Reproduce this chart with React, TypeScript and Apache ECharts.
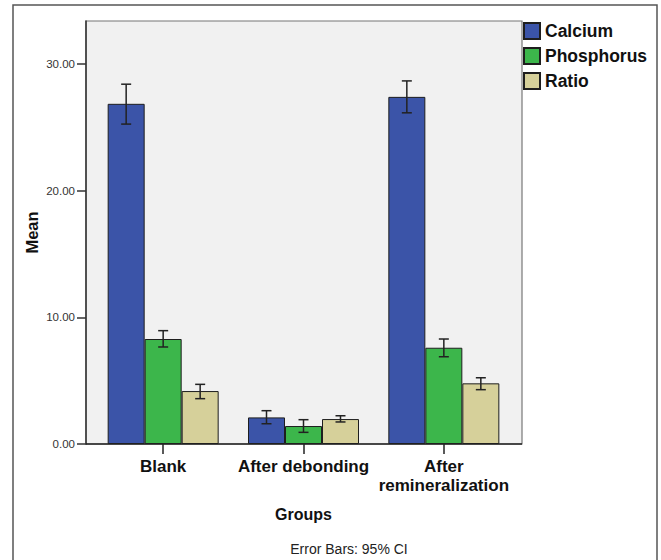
import React, { useEffect, useRef } from "react";
import * as echarts from "echarts";

// Group means with 95% confidence limits
const categories = ["Blank", "After debonding", "After\nremineralization"];
const seriesNames = ["Calcium", "Phosphorus", "Ratio"];

const calciumMean = [26.86, 2.1, 27.41];
const calciumLow = [25.26, 1.6, 26.15];
const calciumHigh = [28.41, 2.63, 28.67];

const phosphorusMean = [8.29, 1.42, 7.6];
const phosphorusLow = [7.66, 0.92, 6.89];
const phosphorusHigh = [8.95, 1.92, 8.29];

const ratioMean = [4.18, 1.97, 4.79];
const ratioLow = [3.58, 1.74, 4.29];
const ratioHigh = [4.71, 2.23, 5.23];

const yTicks = [0, 10, 20, 30];

const colors = ["#3b54a8", "#3cb64b", "#d6d09a"];
const FONT = "'Liberation Sans', Arial, sans-serif";
const BAR_W = 37;

const means = [calciumMean, phosphorusMean, ratioMean];
const lows = [calciumLow, phosphorusLow, ratioLow];
const highs = [calciumHigh, phosphorusHigh, ratioHigh];

export default function App() {
  const ref = useRef<HTMLDivElement>(null);

  useEffect(() => {
    if (!ref.current) return;
    const chart = echarts.init(ref.current, null, { renderer: "svg" });

    const barSeries = seriesNames.map((name, i) => ({
      name,
      type: "bar",
      data: means[i],
      barWidth: BAR_W,
      barGap: "0%",
      itemStyle: { color: colors[i], borderColor: "#1e1e1e", borderWidth: 1 },
      z: 2,
    }));

    const errorSeries = seriesNames.map((name, i) => ({
      name: name + " CI",
      type: "custom",
      z: 5,
      encode: { x: 0, y: [1, 2] },
      data: categories.map((_, c) => [c, lows[i][c], highs[i][c]]),
      renderItem: (params: any, api: any) => {
        const c = api.value(0);
        const top = api.coord([c, api.value(2)]);
        const bot = api.coord([c, api.value(1)]);
        const x = top[0] + (i - 1) * BAR_W;
        const cap = 5;
        const style = { stroke: "#222", lineWidth: 1.5 };
        return {
          type: "group",
          children: [
            { type: "line", shape: { x1: x, y1: top[1], x2: x, y2: bot[1] }, style },
            { type: "line", shape: { x1: x - cap, y1: top[1], x2: x + cap, y2: top[1] }, style },
            { type: "line", shape: { x1: x - cap, y1: bot[1], x2: x + cap, y2: bot[1] }, style },
          ],
        };
      },
    }));

    chart.setOption({
      animation: false,
      backgroundColor: "#ffffff",
      textStyle: { fontFamily: FONT },
      grid: { left: 93, top: 21, width: 421, height: 423 },
      legend: {
        data: seriesNames,
        orient: "vertical",
        left: 523,
        top: 22,
        padding: 0,
        itemWidth: 16,
        itemHeight: 16,
        itemGap: 7,
        icon: "rect",
        textStyle: {
          fontFamily: FONT,
          fontSize: 17.5,
          fontWeight: "bold",
          color: "#111",
          lineHeight: 16,
        },
      },
      xAxis: {
        type: "category",
        data: categories,
        boundaryGap: true,
        axisLine: { show: false },
        axisTick: {
          show: true,
          alignWithLabel: true,
          length: 10,
          lineStyle: { color: "#222", width: 1.5 },
        },
        axisLabel: {
          interval: 0,
          fontFamily: FONT,
          fontSize: 17,
          fontWeight: "bold",
          color: "#111",
          margin: 13,
          lineHeight: 19,
        },
        name: "Groups",
        nameLocation: "middle",
        nameGap: 62,
        nameMoveOverlap: false,
        nameTextStyle: { fontFamily: FONT, fontSize: 16, fontWeight: "bold", color: "#111" },
        splitLine: { show: false },
      },
      yAxis: {
        type: "value",
        min: 0,
        max: 33.4,
        interval: 10,
        offset: 7,
        axisLine: { show: true, lineStyle: { color: "#333", width: 1.5 } },
        axisTick: {
          show: true,
          length: 9,
          customValues: yTicks,
          lineStyle: { color: "#333", width: 1.5 },
        },
        axisLabel: {
          customValues: yTicks,
          fontFamily: FONT,
          fontSize: 11.5,
          color: "#333",
          margin: 11,
          formatter: (v: number) => v.toFixed(2),
        },
        splitLine: { show: false },
        name: "Mean",
        nameLocation: "middle",
        nameGap: 46,
        nameRotate: 90,
        nameMoveOverlap: false,
        nameTextStyle: { fontFamily: FONT, fontSize: 16.5, fontWeight: "bold", color: "#111" },
      },
      graphic: [
        {
          type: "rect",
          z: -10,
          silent: true,
          shape: { x: 13, y: 5, width: 644, height: 600 },
          style: { fill: "#ffffff", stroke: "#555", lineWidth: 1.5 },
        },
        {
          type: "rect",
          z: -5,
          silent: true,
          shape: { x: 86, y: 21, width: 436, height: 423 },
          style: { fill: "#f1f1f1", stroke: "#777", lineWidth: 1.2 },
        },
        {
          type: "line",
          z: 10,
          silent: true,
          shape: { x1: 86, y1: 444, x2: 522, y2: 444 },
          style: { stroke: "#222", lineWidth: 1.5 },
        },
        {
          type: "text",
          silent: true,
          x: 349,
          y: 549,
          style: {
            text: "Error Bars: 95% CI",
            fontFamily: FONT,
            fontSize: 14,
            fill: "#222",
            textAlign: "center",
            textVerticalAlign: "middle",
          },
        },
      ],
      series: [...barSeries, ...errorSeries],
    });

    return () => chart.dispose();
  }, []);

  return (
    <div
      ref={ref}
      style={{ position: "absolute", left: 0, top: 0, width: 661, height: 560 }}
    />
  );
}
